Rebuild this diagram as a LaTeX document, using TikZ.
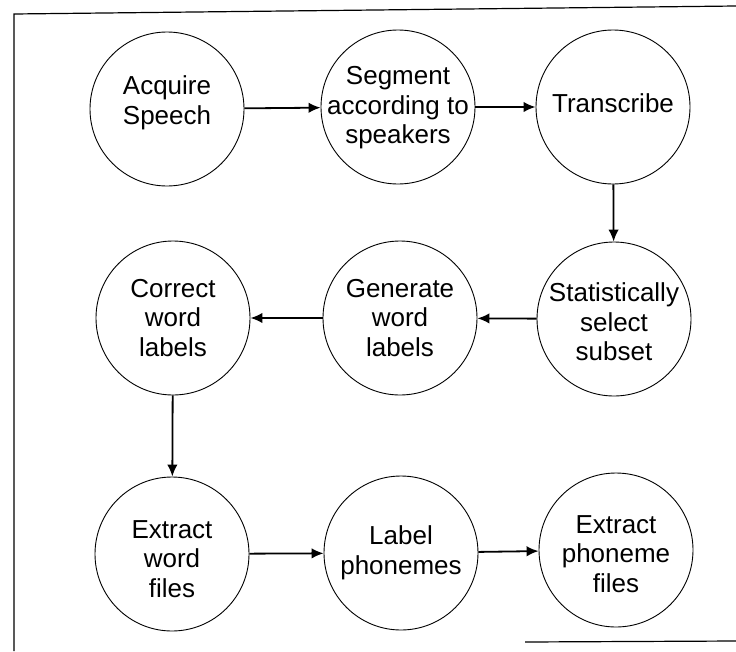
\documentclass[tikz,border=0pt]{standalone}
\usepackage{fontspec}
\setmainfont{Liberation Sans}
\usetikzlibrary{arrows.meta}
\begin{document}
\begin{tikzpicture}[x=1pt,y=-1pt,
  stage/.style={draw, circle, line width=0.9pt, minimum size=154pt, inner sep=0pt},
  words/.style={inner sep=0pt, align=center, font=\fontsize{26}{29.5}\selectfont},
  flow/.style={line width=1.8pt, -{Latex[length=12pt,width=10.5pt]}},
  frame/.style={line width=1.2pt}]
\useasboundingbox (0,0) rectangle (736,651);
% frame
\coordinate (f1) at (14,651);
\coordinate (f2) at (14,14);
\coordinate (f3) at (736,6);
\coordinate (f4) at (525,642);
\coordinate (f5) at (736,641);
\draw[frame] (f1) -- (f2) -- (f3);
\draw[frame] (f4) -- (f5);
% circles
\node[stage] (acq) at (167,109) {};
\node[stage] (seg) at (398,107) {};
\node[stage] (tra) at (613,107) {};
\node[stage] (sta) at (614,319) {};
\node[stage] (gen) at (400,318) {};
\node[stage] (cor) at (173,318) {};
\node[stage] (ext) at (172,554) {};
\node[stage] (lab) at (401,553) {};
\node[stage] (exp) at (616,550) {};
% texts
\node[words] (acqt) at (167,103) {Acquire\\Speech};
\node[words] (segt) at (398,108) {Segment\\according to\\speakers};
\node[words] (trat) at (613,103) {Transcribe};
\node[words] (stat) at (614,322) {Statistically\\select\\subset};
\node[words] (gent) at (400,318) {Generate\\word\\labels};
\node[words] (cort) at (173,318) {Correct\\word\\labels};
\node[words] (extt) at (172,559) {Extract\\word\\files};
\node[words] (labt) at (401,553) {Label\\phonemes};
\node[words] (expt) at (616,554) {Extract\\phoneme\\files};
% connectors
\draw[flow] (acq) -- (seg);
\draw[flow] (seg) -- (tra);
\draw[flow] (tra) -- (sta);
\draw[flow] (sta) -- (gen);
\draw[flow] (gen) -- (cor);
\draw[flow] (cor) -- (ext);
\draw[flow] (ext) -- (lab);
\draw[flow] (lab) -- (exp);
\end{tikzpicture}
\end{document}
